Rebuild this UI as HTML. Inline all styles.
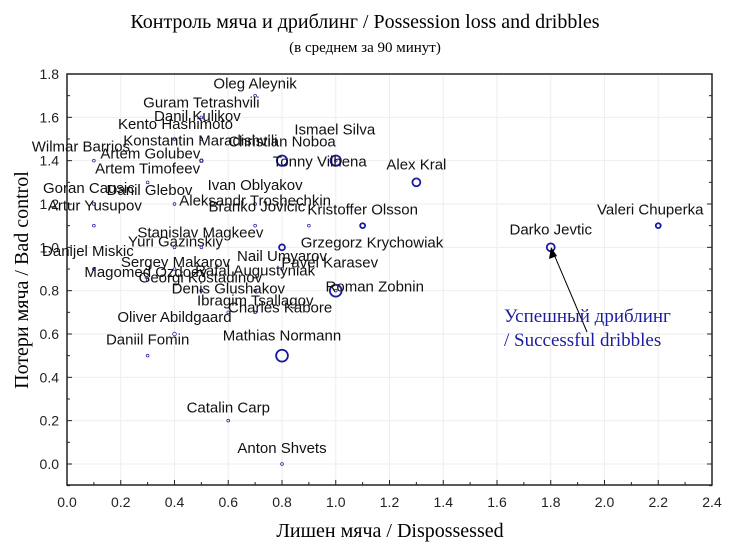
<!DOCTYPE html>
<html><head><meta charset="utf-8"><style>
body{margin:0;background:#fff;width:730px;height:548px;overflow:hidden}
svg text{font-family:"Liberation Sans",sans-serif}
</style></head><body>
<svg id="chart" width="730" height="548" xmlns="http://www.w3.org/2000/svg">
<text x="365" y="28" text-anchor="middle" font-size="20" style="font-family:'Liberation Serif',serif">Контроль мяча и дриблинг / Possession loss and dribbles</text>
<text x="365" y="52" text-anchor="middle" font-size="15" style="font-family:'Liberation Serif',serif">(в среднем за 90 минут)</text>
<text x="390" y="537" text-anchor="middle" font-size="20" style="font-family:'Liberation Serif',serif">Лишен мяча / Dispossessed</text>
<text transform="translate(28,280) rotate(-90)" text-anchor="middle" font-size="20" style="font-family:'Liberation Serif',serif">Потери мяча / Bad control</text>
<g id="grid"></g>
<g id="axes"></g>
<g id="points"></g>
<g id="labels"></g>
<line x1="587" y1="332" x2="553" y2="252" stroke="#000" stroke-width="1"/>
<polygon points="551,247 549,259 557,256" fill="#000"/>
<text x="504" y="322" font-size="19" fill="#1c1ca0" style="font-family:'Liberation Serif',serif">Успешный дриблинг</text>
<text x="504" y="346" font-size="19" fill="#1c1ca0" style="font-family:'Liberation Serif',serif">/ Successful dribbles</text>
</svg>
<script>
const players=["Oleg Aleynik","Guram Tetrashvili","Danil Kulikov","Kento Hashimoto","Konstantin Maradishvili","Wilmar Barrios","Artem Golubev","Christian Noboa","Ismael Silva","Tonny Vilhena","Alex Kral","Artem Timofeev","Goran Causic","Danil Glebov","Ivan Oblyakov","Artur Yusupov","Aleksandr Troshechkin","Branko Jovicic","Kristoffer Olsson","Grzegorz Krychowiak","Stanislav Magkeev","Yuri Gazinskiy","Nail Umyarov","Danijel Miskic","Sergey Makarov","Magomed Ozdoev","Georgi Kostadinov","Pavel Karasev","Roman Zobnin","Denis Glushakov","Rafal Augustyniak","Ibragim Tsallagov","Charles Kabore","Oliver Abildgaard","Daniil Fomin","Mathias Normann","Catalin Carp","Anton Shvets","Darko Jevtic","Valeri Chuperka"];
const dispossessed=[0.7,0.5,0.5,0.4,0.5,0.1,0.5,0.8,1.0,1.0,1.3,0.3,0.1,0.4,0.7,0.1,0.7,0.9,1.1,0.8,0.5,0.4,0.8,0.1,0.4,0.3,0.5,1.0,1.0,0.5,0.7,0.6,0.7,0.4,0.3,0.8,0.6,0.8,1.8,2.2];
const badControl=[1.7,1.6,1.5,1.5,1.4,1.4,1.4,1.4,1.4,1.4,1.3,1.3,1.2,1.2,1.2,1.1,1.1,1.1,1.1,1.0,1.0,1.0,0.9,0.9,0.9,0.85,0.8,0.8,0.8,0.8,0.8,0.7,0.7,0.6,0.5,0.5,0.2,0.0,1.0,1.1];
const dribbles=[0,0,0,0,0,0,0.3,2.5,2.5,0,1.7,0,0,0,0,0,0,0,0.7,1,0,0,0,0,0,0,0,0,3,0,0,0,0,0.3,0,3,0,0,1.7,0.7];
const xTicks=["0.0","0.2","0.4","0.6","0.8","1.0","1.2","1.4","1.6","1.8","2.0","2.2","2.4"];
const yTicks=["0.0","0.2","0.4","0.6","0.8","1.0","1.2","1.4","1.6","1.8"];
// label placement offsets in pixels (layout only)
const labelDx=[0,0,-4,1,-1,-13,-51,0,-1,-16,0,0,-5,-25,0,1,0,-52,0,90,-1,1,0,-6,1,-2,-1,-6,39,27,0,27,25,0,0,0,0,0,0,-8];
const labelDy=[-7,-10,-18,-10,-15,-9,-2,-14,-26,6,-13,-9,-11,-9,-14,-15,-20,-14,-11,0,-10,-1,-8,-13,-2,-3,-8,-23,1,3,-15,-7,0,-12,-11,-15,-8,-11,-13,-11];
const X0=67,X1=712,Y0=485,Y1=74;
const sx=v=>X0+v*(X1-X0)/2.4;
const sy=v=>464-v*(464-Y1)/1.8;
const NS="http://www.w3.org/2000/svg";
function mk(tag,attrs,parent){const e=document.createElementNS(NS,tag);for(const k in attrs)e.setAttribute(k,attrs[k]);parent.appendChild(e);return e;}
const grid=document.getElementById('grid'),axes=document.getElementById('axes'),pts=document.getElementById('points'),lbs=document.getElementById('labels');
xTicks.forEach(t=>{const v=parseFloat(t),x=sx(v);
 const g=mk('line',{x1:x,x2:x,y1:Y1,y2:Y0,stroke:'#eeeeee','stroke-width':1},grid);
 
 
 const tk=mk('line',{x1:x,x2:x,y1:Y0,y2:Y0-5,stroke:'#222','stroke-width':1},axes);
 
 
 const tx=mk('text',{x:x,y:507,'text-anchor':'middle','font-size':14,fill:'#222'},axes);
 tx.textContent=t;
 
 
 if(v<2.4){const m=sx(v+0.1);const mt=mk('line',{x1:m,x2:m,y1:Y0,y2:Y0-3,stroke:'#222','stroke-width':1},axes);
 
 }
});
yTicks.forEach(t=>{const v=parseFloat(t),y=sy(v);
 const g=mk('line',{x1:X0,x2:X1,y1:y,y2:y,stroke:'#eeeeee','stroke-width':1},grid);
 
 
 [[X0,X0+5],[X1,X1-5]].forEach(p=>{const tk=mk('line',{x1:p[0],x2:p[1],y1:y,y2:y,stroke:'#222','stroke-width':1},axes);
 
 });
 const tx=mk('text',{x:59,y:y+5,'text-anchor':'end','font-size':14,fill:'#222'},axes);
 tx.textContent=t;
 
 
 [-0.1,0.1].forEach(d=>{const vv=v+d;if(vv<-0.1||vv>1.8||(d<0&&v>0))return;const m=sy(vv);
 [[X0,X0+3],[X1,X1-3]].forEach(p=>{const mt=mk('line',{x1:p[0],x2:p[1],y1:m,y2:m,stroke:'#222','stroke-width':1},axes);
 
 });});
});
const frame=mk('rect',{x:X0,y:Y1,width:X1-X0,height:Y0-Y1,fill:'none',stroke:'#222','stroke-width':1.5},axes);


players.forEach((n,i)=>{const cx=sx(dispossessed[i]),cy=sy(badControl[i]);const r=1.4+1.5*dribbles[i];
 const c=mk('circle',{cx:cx,cy:cy,r:r,fill:'none',stroke:'#1a1aa0','stroke-width':dribbles[i]>0.5?1.8:0.7},pts);
 
 
 const t=mk('text',{x:cx+labelDx[i],y:cy+labelDy[i],'text-anchor':'middle','font-size':15,fill:'#111'},lbs);
 t.textContent=n;
 
 
});
</script>
</body></html>
